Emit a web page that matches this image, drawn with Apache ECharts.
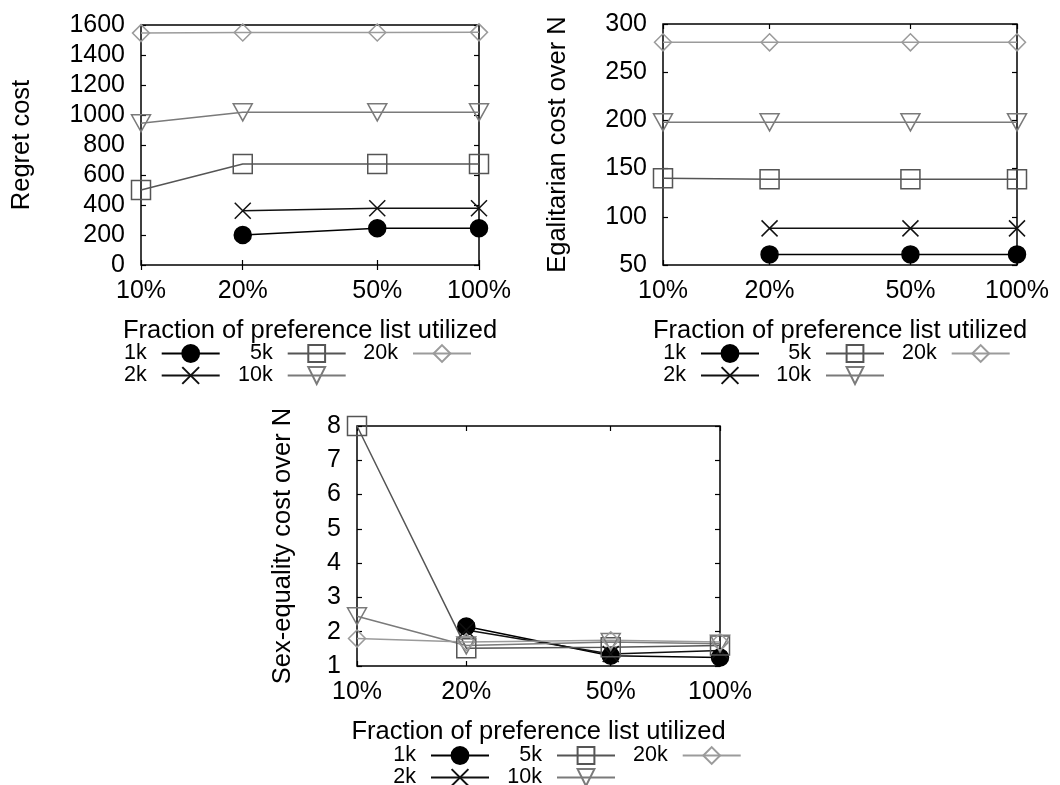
<!DOCTYPE html>
<html>
<head>
<meta charset="utf-8">
<script src="https://cdn.jsdelivr.net/npm/echarts@6/dist/echarts.min.js"></script>
<style>
  body { margin: 0; background: #fff; }
  #chart { width: 1060px; height: 785px; }
</style>
</head>
<body>
<div id="chart"></div>
<script>
// x positions (percent of preference list), drawn on a log axis
const fractions = [10, 20, 50, 100];
const sizeNames = ['1k', '2k', '5k', '10k', '20k'];

// Regret cost
const regret1k  = [null, 200, 245, 245];
const regret2k  = [null, 362, 378, 378];
const regret5k  = [500, 673, 673, 673];
const regret10k = [945, 1018, 1018, 1018];
const regret20k = [1546, 1550, 1550, 1551];

// Egalitarian cost over N
const egal1k  = [null, 61, 61, 61];
const egal2k  = [null, 88, 88, 88];
const egal5k  = [140, 139, 139, 139];
const egal10k = [198, 198, 198, 198];
const egal20k = [281, 281, 281, 281];

// Sex-equality cost over N
const sexeq1k  = [null, 2.15, 1.3, 1.25];
const sexeq2k  = [null, 2.05, 1.35, 1.45];
const sexeq5k  = [8.0, 1.52, 1.55, 1.6];
const sexeq10k = [2.45, 1.6, 1.7, 1.65];
const sexeq20k = [1.8, 1.7, 1.75, 1.7];

const font = "'Liberation Sans', Arial, sans-serif";
const tickFont = 25;
const nameFont = 25.5;
const legendFont = 21.5;

const styles = {
  '1k':  { color: '#000000', symbol: 'circle', size: 17, fill: '#000000' },
  '2k':  { color: '#111111', symbol: 'path://M0,0L10,10M10,0L0,10', size: 16, fill: 'transparent' },
  '5k':  { color: '#555555', symbol: 'rect', size: 19, fill: 'transparent' },
  '10k': { color: '#7a7a7a', symbol: 'path://M0,0L20,0L10,17Z', size: [19, 17], fill: 'transparent' },
  '20k': { color: '#9b9b9b', symbol: 'diamond', size: 17, fill: 'transparent' }
};

const panels = [
  { name: 'Regret cost', min: 0, max: 1600, interval: 200, nameGap: 106,
    values: [regret1k, regret2k, regret5k, regret10k, regret20k] },
  { name: 'Egalitarian cost over N', min: 50, max: 300, interval: 50, nameGap: 92,
    values: [egal1k, egal2k, egal5k, egal10k, egal20k] },
  { name: 'Sex-equality cost over N', min: 1, max: 8, interval: 1, nameGap: 61,
    values: [sexeq1k, sexeq2k, sexeq5k, sexeq10k, sexeq20k] }
];

const grids = [
  { left: 141, top: 25, width: 338, height: 240 },
  { left: 663, top: 24, width: 354, height: 241 },
  { left: 357, top: 426, width: 363, height: 240 }
];

// legend sample right edges (3 columns) and row centres per panel
const legendPos = [
  { cols: [220.7, 346.7, 472], rows: [353, 375] },
  { cols: [760, 885, 1010.7], rows: [353, 375] },
  { cols: [490, 616, 741.7], rows: [755, 777] }
];

const xAxes = [];
const yAxes = [];
const series = [];
const legends = [];

panels.forEach((p, gi) => {
  xAxes.push({
    type: 'log', logBase: 10, min: 10, max: 100, gridIndex: gi, position: 'bottom',
    name: 'Fraction of preference list utilized', nameLocation: 'middle', nameGap: 53,
    nameTextStyle: { fontSize: nameFont, fontFamily: font, color: '#000' },
    axisLine: { show: false },
    axisTick: { show: true, inside: true, length: 5, customValues: fractions, lineStyle: { color: '#000', width: 1.2 } },
    axisLabel: { customValues: fractions, fontSize: tickFont, fontFamily: font, color: '#000', margin: 14,
      formatter: v => Math.round(v) + '%' },
    splitLine: { show: false }, minorTick: { show: false }
  });
  yAxes.push({
    type: 'value', min: p.min, max: p.max, interval: p.interval, gridIndex: gi, position: 'left',
    name: p.name, nameLocation: 'middle', nameRotate: 90, nameGap: p.nameGap,
    nameTextStyle: { fontSize: nameFont, fontFamily: font, color: '#000' },
    axisLine: { show: false },
    axisTick: { show: true, inside: true, length: 5, lineStyle: { color: '#000', width: 1.2 } },
    axisLabel: { fontSize: tickFont, fontFamily: font, color: '#000', margin: 16,
      formatter: v => String(v) },
    splitLine: { show: false }
  });

  p.values.forEach((vals, si) => {
    const name = sizeNames[si];
    const st = styles[name];
    series.push({
      name: name, type: 'line', xAxisIndex: gi, yAxisIndex: gi,
      data: fractions.map((f, i) => [f, vals[i]]).filter(d => d[1] !== null),
      symbol: st.symbol, symbolSize: st.size,
      lineStyle: { color: st.color, width: 1.5 },
      itemStyle: { color: st.fill, borderColor: st.color, borderWidth: 1.5 },
      emphasis: { disabled: true }
    });
  });

  const lp = legendPos[gi];
  const layout = [
    ['1k', 0, 0], ['2k', 0, 1], ['5k', 1, 0], ['10k', 1, 1], ['20k', 2, 0]
  ];
  layout.forEach(([name, c, r]) => {
    legends.push({
      data: [name], right: 1060 - lp.cols[c], top: lp.rows[r] - 10.5,
      align: 'right', itemWidth: 58, itemHeight: 21, padding: 0, selectedMode: false,
      textStyle: { fontSize: legendFont, fontFamily: font, color: '#000', padding: [0, 10, 0, 0] }
    });
  });
});

// mirror axes (top and right) with inner ticks, like the framed original
panels.forEach((p, gi) => {
  xAxes.push({
    type: 'log', logBase: 10, min: 10, max: 100, gridIndex: gi, position: 'top',
    axisLine: { show: false },
    axisTick: { show: true, inside: true, length: 5, customValues: fractions, lineStyle: { color: '#000', width: 1.2 } },
    axisLabel: { show: false }, splitLine: { show: false }
  });
  yAxes.push({
    type: 'value', min: p.min, max: p.max, interval: p.interval, gridIndex: gi, position: 'right',
    axisLine: { show: false },
    axisTick: { show: true, inside: true, length: 5, lineStyle: { color: '#000', width: 1.2 } },
    axisLabel: { show: false }, splitLine: { show: false }
  });
});

const chart = echarts.init(document.getElementById('chart'));
chart.setOption({
  animation: false,
  backgroundColor: '#fff',
  grid: grids.map(g => Object.assign({ show: true, borderColor: '#000', borderWidth: 1.5, backgroundColor: 'transparent' }, g)),
  legend: legends,
  xAxis: xAxes,
  yAxis: yAxes,
  series: series
});
</script>
</body>
</html>
